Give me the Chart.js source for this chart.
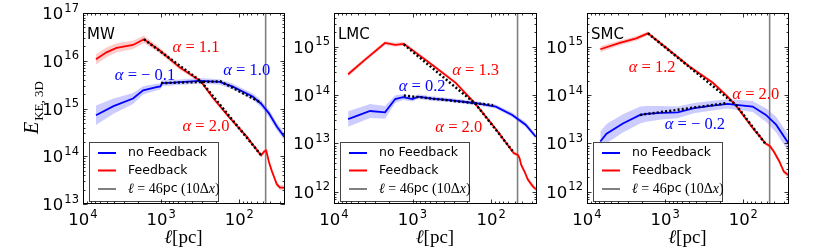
<!DOCTYPE html>
<html>
<head>
<meta charset="utf-8">
<script src="https://cdn.jsdelivr.net/npm/chart.js@4.4.0/dist/chart.umd.min.js"></script>
<style>
  html, body { margin: 0; padding: 0; background: #fff; }
  #wrap { position: relative; width: 830px; height: 249px; overflow: hidden; }
  .panel { position: absolute; top: 0; height: 249px; }
</style>
</head>
<body>
<div id="wrap">
  <div class="panel" style="left:0px;width:290px"><canvas id="c-mw" width="290" height="249"></canvas></div>
  <div class="panel" style="left:290px;width:250px"><canvas id="c-lmc" width="250" height="249"></canvas></div>
  <div class="panel" style="left:540px;width:290px"><canvas id="c-smc" width="290" height="249"></canvas></div>
</div>
<script>
// ---- axes ----
const xMin = 26, xMax = 1e4;
const xTickVals = [1e4, 1e3, 1e2];
const mwTicksY = [1e13, 1e14, 1e15, 1e16, 1e17];
const mcTicksY = [1e12, 1e13, 1e14, 1e15];
const mwRangeY = [1e13, 1e17];
const mcRangeY = [5.6e11, 5.0e15];
const cutScale = 46; // l = 46 pc (10 dx)

// ---- MW ----
const mwFbL = [6820, 5010, 3720, 2290, 1660, 1050, 575, 309, 219, 135, 81, 57.5, 52.5, 47.9, 45.2, 41.7, 38.5, 35.5, 33.1, 30.2, 25.7];
const mwFbE = [1.07e16, 1.5e16, 1.86e16, 2.14e16, 2.82e16, 1.66e16, 7.2e15, 3.7e15, 1.7e15, 6.6e14, 2.6e14, 1.26e14, 1.05e14, 1.26e14, 1.32e14, 7.6e13, 5.0e13, 3.5e13, 2.6e13, 2.2e13, 2.2e13];
const mwFbBand = [1.28, 1.27, 1.25, 1.22, 1.2, 1.15, 1.12, 1.1, 1.1, 1.1, 1.1, 1.1, 1.1, 1.12, 1.12, 1.12, 1.12, 1.12, 1.12, 1.12, 1.12];
const mwNoL = [6820, 4070, 2290, 1700, 1150, 1020, 977, 708, 324, 178, 123, 67.6, 52.5, 41.7, 33.1, 25.7];
const mwNoE = [7.2e14, 1.12e15, 1.62e15, 2.4e15, 2.8e15, 2.9e15, 3.4e15, 3.47e15, 3.8e15, 3.6e15, 2.9e15, 1.78e15, 1.26e15, 7.9e14, 4.2e14, 2.4e14];
const mwNoBand = [1.6, 1.45, 1.3, 1.22, 1.18, 1.15, 1.15, 1.14, 1.14, 1.14, 1.15, 1.17, 1.18, 1.2, 1.2, 1.2];
const mwFitRedL = [1660, 309, 52.5];
const mwFitRedE = [2.82e16, 3.7e15, 1.05e14];
const mwFitBlueL = [1000, 175, 52.5];
const mwFitBlueE = [3.4e15, 3.7e15, 1.32e15];

// ---- LMC ----
const lmcFbL = [6610, 3980, 2240, 1660, 1290, 891, 537, 282, 158, 87, 51.3, 45.5, 43.4, 41.3, 37.4, 34, 29.4, 26.7];
const lmcFbE = [2.7e14, 5.5e14, 1.2e15, 1.1e15, 1.15e15, 7.4e14, 4.0e14, 1.8e14, 6.6e13, 2.0e13, 6.3e12, 5.8e12, 5.0e12, 3.6e12, 2.6e12, 1.8e12, 1.3e12, 1.12e12];
const lmcFbBand = [1.12, 1.1, 1.1, 1.1, 1.1, 1.1, 1.08, 1.08, 1.08, 1.08, 1.08, 1.1, 1.1, 1.1, 1.12, 1.12, 1.12, 1.12];
const lmcNoL = [6610, 3470, 2240, 1660, 1320, 1000, 851, 562, 339, 155, 87, 53.7, 36.3, 26.9];
const lmcNoE = [3.2e13, 4.7e13, 4.4e13, 8.3e13, 9.1e13, 8.3e13, 9.3e13, 8.5e13, 7.9e13, 6.8e13, 5.8e13, 3.9e13, 2.45e13, 1.38e13];
const lmcNoBand = [1.45, 1.4, 1.35, 1.2, 1.15, 1.12, 1.12, 1.12, 1.1, 1.1, 1.1, 1.12, 1.13, 1.13];
const lmcFitRedL = [1290, 158, 51.3];
const lmcFitRedE = [1.12e15, 6.6e13, 6.5e12];
const lmcFitBlueL = [1290, 94];
const lmcFitBlueE = [9.8e13, 6.2e13];

// ---- SMC ----
const smcFbL = [6760, 3800, 2340, 1660, 955, 490, 245, 166, 123, 75.9, 51.3, 45.7, 40.7, 34.7, 30.2, 26.3];
const smcFbE = [8.9e14, 1.2e15, 1.5e15, 1.9e15, 9.3e14, 3.9e14, 1.8e14, 1.0e14, 6.0e13, 2.1e13, 9.8e12, 8.9e12, 6.8e12, 4.3e12, 2.6e12, 2.2e12];
const smcFbBand = [1.15, 1.12, 1.12, 1.1, 1.1, 1.08, 1.08, 1.08, 1.08, 1.08, 1.08, 1.1, 1.1, 1.12, 1.12, 1.12];
const smcNoL = [6760, 5620, 3470, 2090, 1740, 1120, 692, 427, 263, 158, 123, 75.9, 51.3, 38, 26.3];
const smcNoE = [1.1e13, 1.6e13, 2.6e13, 3.9e13, 4.1e13, 4.3e13, 4.4e13, 5.4e13, 6.0e13, 6.6e13, 6.3e13, 5.8e13, 3.9e13, 2.45e13, 1.0e13];
const smcNoBand = [1.6, 1.58, 1.55, 1.5, 1.45, 1.38, 1.32, 1.28, 1.26, 1.25, 1.27, 1.3, 1.38, 1.45, 1.5];
const smcFitRedL = [1660, 123, 51.3];
const smcFitRedE = [1.9e15, 6.2e13, 9.5e12];
const smcFitBlueL = [2090, 166];
const smcFitBlueE = [3.9e13, 6.8e13];

// slope labels: [text, colour, l, E] (left edge, vertical middle)
const mwNotes = [['1.1', 'red', 713, 1.85e16], ['\u2212 0.1', 'blue', 3910, 4.8e15], ['1.0', 'blue', 160, 6.1e15], ['2.0', 'red', 532, 4.1e14]];
const lmcNotes = [['1.3', 'red', 312, 3.2e14], ['0.2', 'blue', 1500, 1.49e14], ['2.0', 'red', 512, 2.1e13]];
const smcNotes = [['1.2', 'red', 2920, 3.7e14], ['2.0', 'red', 138, 1.0e14], ['\u2212 0.2', 'blue', 1010, 2.4e13]];

const legendLabels = ['no Feedback', 'Feedback'];

const BLUE = '#0000ff', RED = '#ff0000', GREY = '#808080';
const SERIF = '"Liberation Serif", "DejaVu Serif", serif';
const SANS = '"DejaVu Sans", sans-serif';

function pts(L, E) {
    return L.map((l, i) => ({ x: l, y: E[i] }));
}

// shaded spread: upper curve fills down to the next dataset
function band(L, E, F, color) {
    return [
        { data: L.map((l, i) => ({ x: l, y: E[i] * F[i] })), fill: '+1', backgroundColor: color,
          borderWidth: 0, borderColor: 'rgba(0,0,0,0)', pointRadius: 0, order: 10 },
        { data: L.map((l, i) => ({ x: l, y: E[i] / F[i] })), fill: false,
          borderWidth: 0, borderColor: 'rgba(0,0,0,0)', pointRadius: 0, order: 10 }
    ];
}

function line(data, color, width, dash, order) {
    return { data: data, borderColor: color, borderWidth: width, borderDash: dash || [],
             pointRadius: 0, fill: false, tension: 0, order: order };
}

function logTicks(lo, hi) {
    const out = [];
    for (let d = Math.floor(Math.log10(lo)); d <= Math.ceil(Math.log10(hi)); d++) {
        for (let m = 1; m < 10; m++) {
            const v = m * Math.pow(10, d);
            if (v >= lo * 0.999 && v <= hi * 1.001) out.push({ v: v, major: m === 1 });
        }
    }
    return out;
}

// "10" with a raised exponent
function drawPow(ctx, v, x, base, align) {
    const e = String(Math.round(Math.log10(v)));
    const big = '16.5px ' + SANS, small = '11.5px ' + SANS;
    ctx.font = big; const w1 = ctx.measureText('10').width;
    ctx.font = small; const w2 = ctx.measureText(e).width;
    const total = w1 + 1 + w2;
    const x0 = align === 'center' ? x - total / 2 : x - total;
    ctx.textAlign = 'left';
    ctx.textBaseline = 'alphabetic';
    ctx.font = big; ctx.fillText('10', x0, base);
    ctx.font = small; ctx.fillText(e, x0 + w1 + 1, base - 7.5);
}

function drawRuns(ctx, runs, x, y) {
    runs.forEach(r => {
        ctx.font = r[1];
        ctx.fillText(r[0], x, y);
        x += ctx.measureText(r[0]).width;
    });
}

const decor = {
    id: 'decor',
    afterDatasetsDraw(chart, args, opts) {
        const ctx = chart.ctx, a = chart.chartArea;
        const xs = chart.scales.x, ys = chart.scales.y;
        ctx.save();
        ctx.textAlign = 'left';
        ctx.textBaseline = 'middle';
        // slope annotations
        opts.notes.forEach(n => {
            const px = xs.getPixelForValue(n[2]), py = ys.getPixelForValue(n[3]);
            ctx.fillStyle = n[1];
            drawRuns(ctx, [['\u03b1', 'italic 16.5px ' + SERIF], [' = ' + n[0], '16.5px ' + SERIF]], px, py);
        });
        // panel name
        ctx.fillStyle = '#000';
        ctx.textBaseline = 'alphabetic';
        ctx.font = '15px ' + SANS;
        ctx.fillText(opts.name, a.left + 4, a.top + 25.5);

        // legend box, lower left
        const bx = a.left + 6, by = a.bottom - 62, bw = 129, bh = 59;
        ctx.fillStyle = '#fff';
        ctx.fillRect(bx, by, bw, bh);
        ctx.strokeStyle = '#444';
        ctx.lineWidth = 1;
        ctx.strokeRect(bx + 0.5, by + 0.5, bw, bh);
        const rows = [11, 28.5, 47];
        const cols = [BLUE, RED, GREY];
        rows.forEach((ry, i) => {
            ctx.strokeStyle = cols[i];
            ctx.lineWidth = 2;
            ctx.beginPath();
            ctx.moveTo(bx + 9, by + ry);
            ctx.lineTo(bx + 27, by + ry);
            ctx.stroke();
        });
        ctx.fillStyle = '#000';
        ctx.textBaseline = 'middle';
        ctx.font = '12.5px ' + SANS;
        ctx.fillText(legendLabels[0], bx + 39, by + rows[0]);
        ctx.fillText(legendLabels[1], bx + 39, by + rows[1]);
        drawRuns(ctx, [
            ['\u2113', 'italic 14px ' + SERIF], [' = 46', '14px ' + SERIF], ['pc', '12.5px ' + SANS],
            [' (10\u0394', '14px ' + SERIF], ['x', 'italic 14px ' + SERIF], [')', '14px ' + SERIF]
        ], bx + 39, by + rows[2]);
        ctx.restore();
    },
    afterDraw(chart, args, opts) {
        const ctx = chart.ctx, a = chart.chartArea;
        const xs = chart.scales.x, ys = chart.scales.y;
        ctx.save();
        ctx.strokeStyle = '#000';
        ctx.lineWidth = 1;
        ctx.strokeRect(a.left + 0.5, a.top + 0.5, a.right - a.left - 1, a.bottom - a.top - 1);

        // inward ticks on all four sides
        ctx.lineWidth = 0.8;
        ctx.beginPath();
        logTicks(xMin, xMax).forEach(t => {
            const px = Math.round(xs.getPixelForValue(t.v)) + 0.5, len = t.major ? 4.5 : 2.5;
            ctx.moveTo(px, a.bottom); ctx.lineTo(px, a.bottom - len);
            ctx.moveTo(px, a.top); ctx.lineTo(px, a.top + len);
        });
        logTicks(ys.min, ys.max).forEach(t => {
            const py = Math.round(ys.getPixelForValue(t.v)) + 0.5, len = t.major ? 4.5 : 2.5;
            ctx.moveTo(a.left, py); ctx.lineTo(a.left + len, py);
            ctx.moveTo(a.right, py); ctx.lineTo(a.right - len, py);
        });
        ctx.stroke();

        // tick labels
        ctx.fillStyle = '#000';
        xTickVals.forEach(v => drawPow(ctx, v, xs.getPixelForValue(v), a.bottom + 21, 'center'));
        opts.yTicks.forEach(v => drawPow(ctx, v, a.left - 4, ys.getPixelForValue(v) + 6, 'right'));

        // x title
        ctx.textAlign = 'left';
        ctx.textBaseline = 'alphabetic';
        ctx.font = '19px ' + SERIF;
        const tw = ctx.measureText('\u2113[pc]').width;
        drawRuns(ctx, [['\u2113', 'italic 19px ' + SERIF], ['[pc]', '19px ' + SERIF]], (a.left + a.right) / 2 - tw / 2, 243);

        // y title, rotated
        if (opts.yTitle) {
            ctx.translate(38, 134);
            ctx.rotate(-Math.PI / 2);
            ctx.textAlign = 'left';
            ctx.font = 'italic 20px ' + SERIF;
            ctx.fillText('E', 0, 0);
            const w = ctx.measureText('E').width;
            ctx.font = '13px ' + SERIF;
            ctx.fillText('KE, 3D', w + 1, 5);
        }
        ctx.restore();
    }
};

function makePanel(id, p) {
    const datasets = [
        line(pts(p.fitRedL, p.fitRedE), '#000', 2.5, [2, 2.2], 1),
        line(pts(p.fitBlueL, p.fitBlueE), '#000', 2.5, [2, 2.2], 1),
        line(pts(p.noL, p.noE), BLUE, 1.8, null, 3),
        line(pts(p.fbL, p.fbE), RED, 1.8, null, 3),
        line([{ x: cutScale, y: p.range[0] }, { x: cutScale, y: p.range[1] }], GREY, 1.6, null, 6)
    ].concat(band(p.noL, p.noE, p.noBand, 'rgba(0,0,255,0.2)'))
     .concat(band(p.fbL, p.fbE, p.fbBand, 'rgba(255,0,0,0.2)'));

    return new Chart(document.getElementById(id), {
        type: 'line',
        data: { datasets: datasets },
        options: {
            responsive: false,
            animation: false,
            events: [],
            layout: { padding: { left: 0, right: p.padR, top: 13, bottom: 0 } },
            scales: {
                x: {
                    type: 'logarithmic', reverse: true, min: xMin, max: xMax,
                    grid: { display: false }, border: { display: false },
                    ticks: { display: false },
                    afterFit: s => { s.height = 45; }
                },
                y: {
                    type: 'logarithmic', min: p.range[0], max: p.range[1],
                    grid: { display: false }, border: { display: false },
                    ticks: { display: false },
                    afterFit: s => { s.width = p.axisW; }
                }
            },
            plugins: {
                legend: { display: false },
                tooltip: { enabled: false },
                decor: { name: p.name, notes: p.notes, yTicks: p.yTicks, yTitle: p.yTitle }
            }
        },
        plugins: [decor]
    });
}

makePanel('c-mw', {
    name: 'MW', axisW: 83, padR: 5, range: mwRangeY, yTicks: mwTicksY, yTitle: true, notes: mwNotes,
    fbL: mwFbL, fbE: mwFbE, fbBand: mwFbBand, noL: mwNoL, noE: mwNoE, noBand: mwNoBand,
    fitRedL: mwFitRedL, fitRedE: mwFitRedE, fitBlueL: mwFitBlueL, fitBlueE: mwFitBlueE
});
makePanel('c-lmc', {
    name: 'LMC', axisW: 44, padR: 3, range: mcRangeY, yTicks: mcTicksY, yTitle: false, notes: lmcNotes,
    fbL: lmcFbL, fbE: lmcFbE, fbBand: lmcFbBand, noL: lmcNoL, noE: lmcNoE, noBand: lmcNoBand,
    fitRedL: lmcFitRedL, fitRedE: lmcFitRedE, fitBlueL: lmcFitBlueL, fitBlueE: lmcFitBlueE
});
makePanel('c-smc', {
    name: 'SMC', axisW: 47, padR: 41, range: mcRangeY, yTicks: mcTicksY, yTitle: false, notes: smcNotes,
    fbL: smcFbL, fbE: smcFbE, fbBand: smcFbBand, noL: smcNoL, noE: smcNoE, noBand: smcNoBand,
    fitRedL: smcFitRedL, fitRedE: smcFitRedE, fitBlueL: smcFitBlueL, fitBlueE: smcFitBlueE
});
</script>
</body>
</html>
